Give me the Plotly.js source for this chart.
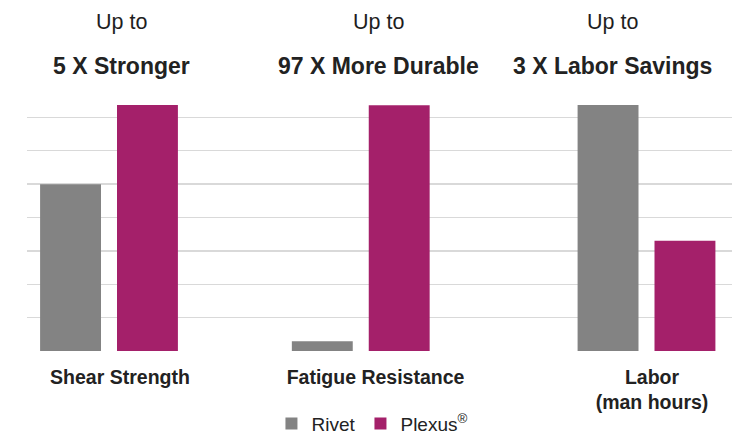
<!DOCTYPE html>
<html>
<head>
<meta charset="utf-8">
<script src="https://cdn.plot.ly/plotly-3.0.1.min.js"></script>
<style>html,body{margin:0;padding:0;background:#fff;}#chart{width:749px;height:434px;}</style>
</head>
<body>
<div id="chart"></div>
<script>
// ---- data ----
const categories = ['Shear Strength', 'Fatigue Resistance', 'Labor<br>(man hours)'];
const headlines = ['5 X Stronger', '97 X More Durable', '3 X Labor Savings'];
const prefixes = ['Up to', 'Up to', 'Up to'];
const seriesNames = ['Rivet', 'Plexus<sup>®</sup>'];
const rivet = [5.0, 0.29, 7.37];
const plexus = [7.37, 7.36, 3.30];

// ---- layout constants (positions on the numeric x scale) ----
const groupX = [82, 333.75, 619.5];
const labelX = [93, 348.5, 625];
const headX = [94, 351.5, 585];

const font = 'Liberation Sans, Arial, sans-serif';
const gray = '#838383';
const magenta = '#A4206A';

const traces = [
  {type: 'bar', name: seriesNames[0], x: groupX, y: rivet, marker: {color: gray}, hoverinfo: 'none'},
  {type: 'bar', name: seriesNames[1], x: groupX, y: plexus, marker: {color: magenta}, hoverinfo: 'none'}
];

const annotations = [];
for (let i = 0; i < headlines.length; i++) {
  annotations.push({x: headX[i], xref: 'x', y: 1.232, yref: 'paper', yanchor: 'middle',
    text: prefixes[i], showarrow: false, font: {family: font, size: 21.5, color: '#1e1e1e'}});
  annotations.push({x: headX[i], xref: 'x', y: 1.068, yref: 'paper', yanchor: 'middle',
    text: headlines[i], showarrow: false, font: {family: font, size: 23, color: '#222', weight: 'bold'}});
}

const layout = {
  width: 749, height: 434,
  margin: {l: 27, r: 17, t: 84, b: 83, autoexpand: false},
  paper_bgcolor: '#fff', plot_bgcolor: '#fff',
  barmode: 'group', bargap: 0.389, bargroupgap: 0.208,
  showlegend: true,
  legend: {orientation: 'h', x: 0.49, xanchor: 'center', y: -0.272, yanchor: 'middle',
    font: {family: font, size: 19, color: '#222'}, itemclick: false},
  xaxis: {range: [0, 705], showgrid: false, zeroline: false, showline: false,
    tickmode: 'array', tickvals: labelX, ticktext: categories, ticks: '', ticklabelstandoff: 12,
    tickfont: {family: font, size: 19.5, color: '#222', weight: 'bold'}, automargin: false, fixedrange: true},
  yaxis: {range: [0, 8], tickmode: 'array', tickvals: [0,1,2,3,4,5,6,7], showticklabels: false,
    gridcolor: '#d9d9d9', gridwidth: 1.3, zeroline: false, showline: false, automargin: false, fixedrange: true},
  annotations: annotations,
  font: {family: font}
};

Plotly.newPlot('chart', traces, layout, {displayModeBar: false, staticPlot: true});
</script>
</body>
</html>
